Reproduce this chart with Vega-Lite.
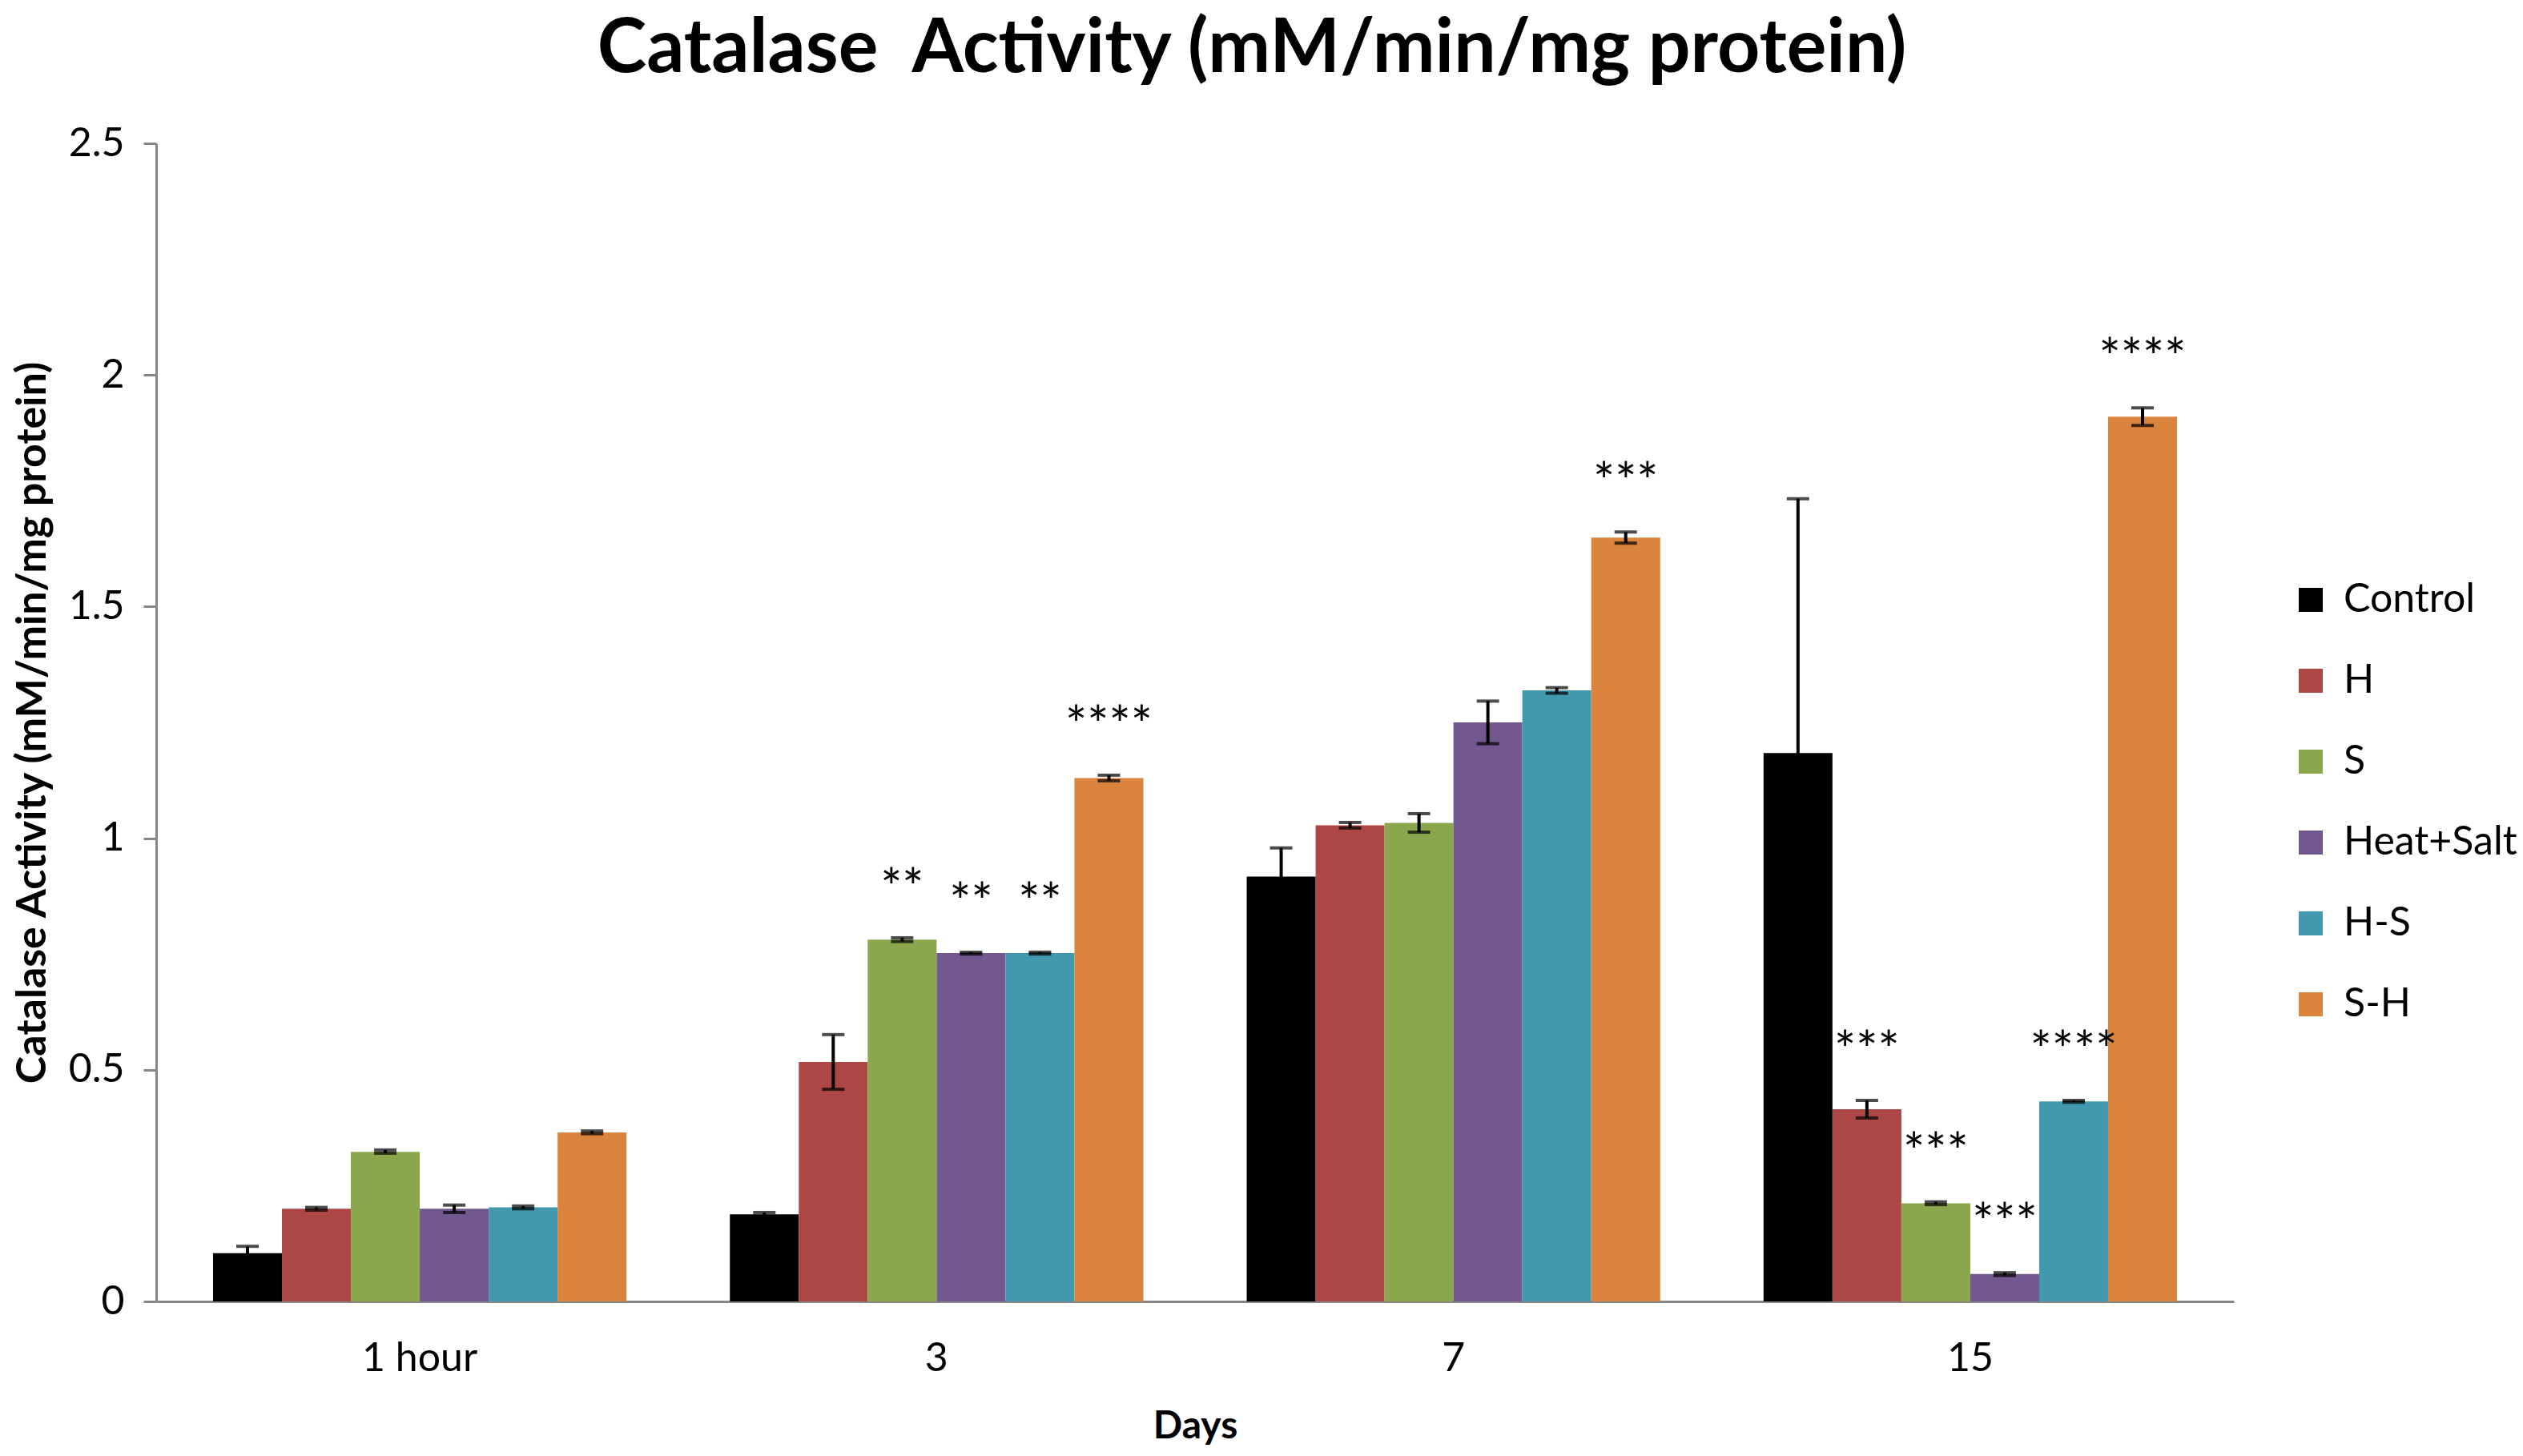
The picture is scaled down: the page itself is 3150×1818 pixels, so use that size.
{
  "$schema": "https://vega.github.io/schema/vega-lite/v6.json",
  "description": "Catalase activity by treatment and day, grouped bars with error bars and significance stars",
  "autosize": {"type": "none"},
  "padding": {"left": 195, "top": 179, "right": 361, "bottom": 193},
  "width": 2594,
  "height": 1446,
  "background": "white",
  "title": {
    "text": "Catalase\u00a0 Activity (mM/min/mg protein)",
    "font": "Lato",
    "fontSize": 93,
    "fontWeight": "bold",
    "color": "black",
    "anchor": "middle",
    "frame": "group",
    "dx": 71,
    "offset": 44
  },
  "config": {
    "view": {"stroke": null},
    "font": "Lato",
    "axis": {"grid": false, "labelColor": "black", "titleColor": "black", "labelFont": "Lato", "titleFont": "Lato"}
  },
  "data": {
    "values": [
      {"Day": "1 hour", "Group": "Control", "Mean": 0.104, "Lo": 0.089, "Hi": 0.119, "Stars": ""},
      {"Day": "1 hour", "Group": "H", "Mean": 0.200, "Lo": 0.197, "Hi": 0.203, "Stars": ""},
      {"Day": "1 hour", "Group": "S", "Mean": 0.323, "Lo": 0.320, "Hi": 0.327, "Stars": ""},
      {"Day": "1 hour", "Group": "Heat+Salt", "Mean": 0.200, "Lo": 0.192, "Hi": 0.208, "Stars": ""},
      {"Day": "1 hour", "Group": "H-S", "Mean": 0.203, "Lo": 0.200, "Hi": 0.206, "Stars": ""},
      {"Day": "1 hour", "Group": "S-H", "Mean": 0.365, "Lo": 0.362, "Hi": 0.368, "Stars": ""},
      {"Day": "3", "Group": "Control", "Mean": 0.188, "Lo": 0.184, "Hi": 0.192, "Stars": ""},
      {"Day": "3", "Group": "H", "Mean": 0.517, "Lo": 0.458, "Hi": 0.576, "Stars": ""},
      {"Day": "3", "Group": "S", "Mean": 0.781, "Lo": 0.777, "Hi": 0.785, "Stars": "**"},
      {"Day": "3", "Group": "Heat+Salt", "Mean": 0.752, "Lo": 0.750, "Hi": 0.754, "Stars": "**"},
      {"Day": "3", "Group": "H-S", "Mean": 0.752, "Lo": 0.750, "Hi": 0.754, "Stars": "**"},
      {"Day": "3", "Group": "S-H", "Mean": 1.130, "Lo": 1.124, "Hi": 1.136, "Stars": "****"},
      {"Day": "7", "Group": "Control", "Mean": 0.917, "Lo": 0.855, "Hi": 0.979, "Stars": ""},
      {"Day": "7", "Group": "H", "Mean": 1.028, "Lo": 1.022, "Hi": 1.034, "Stars": ""},
      {"Day": "7", "Group": "S", "Mean": 1.033, "Lo": 1.013, "Hi": 1.053, "Stars": ""},
      {"Day": "7", "Group": "Heat+Salt", "Mean": 1.250, "Lo": 1.204, "Hi": 1.296, "Stars": ""},
      {"Day": "7", "Group": "H-S", "Mean": 1.319, "Lo": 1.313, "Hi": 1.325, "Stars": ""},
      {"Day": "7", "Group": "S-H", "Mean": 1.649, "Lo": 1.637, "Hi": 1.661, "Stars": "***"},
      {"Day": "15", "Group": "Control", "Mean": 1.184, "Lo": 0.635, "Hi": 1.733, "Stars": ""},
      {"Day": "15", "Group": "H", "Mean": 0.415, "Lo": 0.396, "Hi": 0.434, "Stars": "***"},
      {"Day": "15", "Group": "S", "Mean": 0.212, "Lo": 0.209, "Hi": 0.215, "Stars": "***"},
      {"Day": "15", "Group": "Heat+Salt", "Mean": 0.059, "Lo": 0.056, "Hi": 0.062, "Stars": "***"},
      {"Day": "15", "Group": "H-S", "Mean": 0.432, "Lo": 0.430, "Hi": 0.434, "Stars": "****"},
      {"Day": "15", "Group": "S-H", "Mean": 1.910, "Lo": 1.891, "Hi": 1.929, "Stars": "****"}
    ]
  },
  "encoding": {
    "x": {
      "field": "Day",
      "type": "nominal",
      "sort": ["1 hour", "3", "7", "15"],
      "scale": {"paddingInner": 0.2, "paddingOuter": 0.11},
      "axis": {
        "title": "Days",
        "titleFontSize": 48,
        "titleFontWeight": "bold",
        "titlePadding": 36,
        "labelFontSize": 50,
        "labelAngle": 0,
        "labelPadding": 46,
        "ticks": false,
        "domainColor": "#868686",
        "domainWidth": 3
      }
    },
    "xOffset": {
      "field": "Group",
      "type": "nominal",
      "sort": ["Control", "H", "S", "Heat+Salt", "H-S", "S-H"],
      "scale": {"paddingInner": 0, "paddingOuter": 0}
    }
  },
  "layer": [
    {
      "mark": {"type": "bar"},
      "encoding": {
        "y": {
          "field": "Mean",
          "type": "quantitative",
          "scale": {"domain": [0, 2.5], "nice": false},
          "axis": {
            "title": "Catalase Activity (mM/min/mg protein)",
            "titleFontSize": 52,
            "titleFontWeight": "bold",
            "titlePadding": 18,
            "labelFontSize": 50,
            "labelPadding": 24,
            "values": [0, 0.5, 1, 1.5, 2, 2.5],
            "format": ".1~f",
            "tickSize": 16,
            "tickWidth": 3,
            "tickColor": "#868686",
            "domainColor": "#868686",
            "domainWidth": 3
          }
        },
        "color": {
          "field": "Group",
          "type": "nominal",
          "sort": ["Control", "H", "S", "Heat+Salt", "H-S", "S-H"],
          "scale": {
            "domain": ["Control", "H", "S", "Heat+Salt", "H-S", "S-H"],
            "range": ["#000000", "#ad4746", "#8aa74e", "#72588f", "#4298af", "#db843d"]
          },
          "legend": {
            "title": null,
            "orient": "none",
            "legendX": 2665,
            "legendY": 545,
            "padding": 0,
            "symbolType": "square",
            "symbolSize": 900,
            "symbolStrokeWidth": 0,
            "symbolOpacity": 1,
            "labelFontSize": 50,
            "labelFont": "Lato",
            "labelColor": "black",
            "labelLimit": 0,
            "labelOffset": 16,
            "rowPadding": 51
          }
        }
      }
    },
    {
      "mark": {"type": "rule", "color": "black", "strokeWidth": 4},
      "encoding": {
        "y": {"field": "Lo", "type": "quantitative"},
        "y2": {"field": "Hi"}
      }
    },
    {
      "mark": {"type": "tick", "orient": "horizontal", "color": "black", "thickness": 4, "size": 28},
      "encoding": {
        "y": {"field": "Lo", "type": "quantitative"}
      }
    },
    {
      "mark": {"type": "tick", "orient": "horizontal", "color": "black", "thickness": 4, "size": 28},
      "encoding": {
        "y": {"field": "Hi", "type": "quantitative"}
      }
    },
    {
      "mark": {"type": "text", "font": "Lato", "fontSize": 64, "color": "black", "baseline": "alphabetic", "dy": -40},
      "encoding": {
        "y": {"field": "Hi", "type": "quantitative"},
        "text": {"field": "Stars"}
      }
    }
  ]
}
